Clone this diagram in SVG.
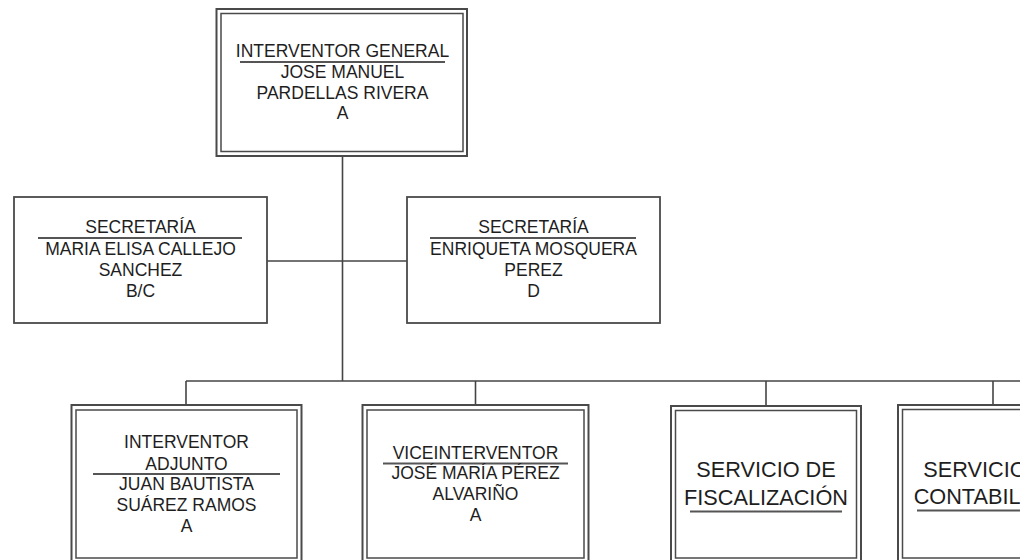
<svg xmlns="http://www.w3.org/2000/svg" width="1020" height="560" viewBox="0 0 1020 560">
<style>
  .bg { fill: #ffffff; }
  .outer { fill: #ffffff; stroke: #4a4a4a; stroke-width: 2; }
  .inner { fill: none; stroke: #4a4a4a; stroke-width: 1.5; }
  .single { fill: #ffffff; stroke: #4a4a4a; stroke-width: 1.8; }
  .conn { fill: none; stroke: #444444; stroke-width: 1.6; }
  .rule { stroke: #555555; stroke-width: 2; }
  .t { font-family: "Liberation Sans", Arial, sans-serif; font-size: 17.5px; fill: #1e1e1e; text-anchor: middle; }
  .big { font-family: "Liberation Sans", Arial, sans-serif; font-size: 21.7px; fill: #1e1e1e; text-anchor: middle; }
</style>
<rect class="bg" x="0" y="0" width="1020" height="560"/>

<g id="connectors">
  <line class="conn" x1="342.5" y1="156" x2="342.5" y2="381"/>
  <line class="conn" x1="267" y1="261" x2="407" y2="261"/>
  <line class="conn" x1="186" y1="381" x2="1020" y2="381"/>
  <line class="conn" x1="186" y1="381" x2="186" y2="405"/>
  <line class="conn" x1="475.5" y1="381" x2="475.5" y2="405"/>
  <line class="conn" x1="766" y1="381" x2="766" y2="405"/>
  <line class="conn" x1="993" y1="381" x2="993" y2="405"/>
</g>

<g id="interventor-general">
  <rect class="outer" x="216.5" y="9" width="250.5" height="147"/>
  <rect class="inner" x="221" y="13.5" width="242" height="138"/>
  <text class="t" x="342.5" y="57">INTERVENTOR GENERAL</text>
  <line class="rule" x1="240" y1="62" x2="445" y2="62"/>
  <text class="t" x="342.5" y="78">JOSE MANUEL</text>
  <text class="t" x="342.5" y="98.5">PARDELLAS RIVERA</text>
  <text class="t" x="342.5" y="119">A</text>
</g>

<g id="secretaria-1">
  <rect class="single" x="14" y="197" width="253" height="126"/>
  <text class="t" x="140.5" y="233">SECRETARÍA</text>
  <line class="rule" x1="38" y1="238" x2="242" y2="238"/>
  <text class="t" x="140.5" y="255">MARIA ELISA CALLEJO</text>
  <text class="t" x="140.5" y="276">SANCHEZ</text>
  <text class="t" x="140.5" y="297">B/C</text>
</g>

<g id="secretaria-2">
  <rect class="single" x="407" y="197" width="253" height="126"/>
  <text class="t" x="533.5" y="233">SECRETARÍA</text>
  <line class="rule" x1="430" y1="238" x2="636" y2="238"/>
  <text class="t" x="533.5" y="255">ENRIQUETA MOSQUERA</text>
  <text class="t" x="533.5" y="276">PEREZ</text>
  <text class="t" x="533.5" y="297">D</text>
</g>

<g id="interventor-adjunto">
  <rect class="outer" x="71.5" y="405" width="230" height="160"/>
  <rect class="inner" x="76" y="410" width="221" height="148"/>
  <text class="t" x="186.5" y="448">INTERVENTOR</text>
  <text class="t" x="186.5" y="469.5">ADJUNTO</text>
  <line class="rule" x1="93" y1="474" x2="280" y2="474"/>
  <text class="t" x="186.5" y="490">JUAN BAUTISTA</text>
  <text class="t" x="186.5" y="511">SUÁREZ RAMOS</text>
  <text class="t" x="186.5" y="532">A</text>
</g>

<g id="viceinterventor">
  <rect class="outer" x="362.5" y="405" width="226" height="160"/>
  <rect class="inner" x="367" y="410" width="217" height="148"/>
  <text class="t" x="475.5" y="459">VICEINTERVENTOR</text>
  <line class="rule" x1="383" y1="463.5" x2="568" y2="463.5"/>
  <text class="t" x="475.5" y="479">JOSÉ MARÍA PÉREZ</text>
  <text class="t" x="475.5" y="500">ALVARIÑO</text>
  <text class="t" x="475.5" y="521">A</text>
</g>

<g id="servicio-fiscalizacion">
  <rect class="outer" x="671" y="406" width="190" height="160"/>
  <rect class="inner" x="675.5" y="410.5" width="181" height="147.5"/>
  <text class="big" x="766" y="477">SERVICIO DE</text>
  <text class="big" x="766" y="505">FISCALIZACIÓN</text>
  <line class="rule" x1="690" y1="511.5" x2="842" y2="511.5"/>
</g>

<g id="servicio-contabilidad">
  <rect class="outer" x="898" y="405" width="190" height="160"/>
  <rect class="inner" x="902.5" y="409.5" width="181" height="148.5"/>
  <text class="big" x="993" y="477">SERVICIO DE</text>
  <text class="big" x="993" y="503.5">CONTABILIDAD</text>
  <line class="rule" x1="917" y1="510.5" x2="1069" y2="510.5"/>
</g>
</svg>
